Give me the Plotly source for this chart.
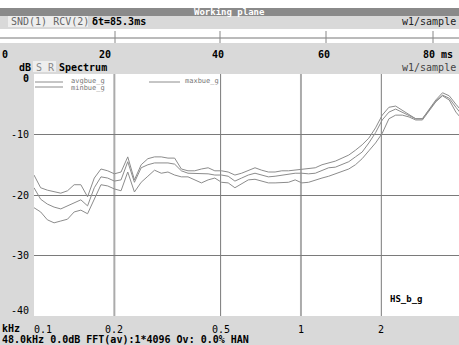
import math
import plotly.graph_objects as go

# ---------------- data ----------------
freq_khz = [0.1000, 0.1059, 0.1122, 0.1189, 0.1260, 0.1335, 0.1414, 0.1498, 0.1587, 0.1682,
            0.1782, 0.1888, 0.2000, 0.2119, 0.2245, 0.2378, 0.2520, 0.2670, 0.2828, 0.2997,
            0.3175, 0.3364, 0.3564, 0.3775, 0.4000, 0.4238, 0.4490, 0.4757, 0.5040, 0.5339,
            0.5657, 0.5993, 0.6350, 0.6727, 0.7127, 0.7551, 0.8000, 0.8476, 0.8980, 0.9514,
            1.0079, 1.0679, 1.1314, 1.1986, 1.2699, 1.3454, 1.4254, 1.5102, 1.6000, 1.6951,
            1.7959, 1.9027, 2.0159, 2.1357, 2.2627, 2.3973, 2.5398, 2.6909, 2.8509, 3.0204,
            3.2000, 3.3903, 3.5919, 3.8055, 4.0317]

maxbue_g = [-16.7, -18.8, -19.2, -19.5, -19.7, -19.3, -18.3, -18.3, -20.3, -17.2,
            -15.7, -16.0, -16.5, -16.2, -13.7, -17.5, -15.0, -14.0, -13.7, -13.7,
            -13.9, -13.9, -15.7, -16.0, -16.0, -15.7, -15.5, -16.0, -16.0, -16.2,
            -16.7, -16.4, -15.9, -15.5, -15.9, -16.2, -16.2, -16.0, -16.0, -15.9,
            -15.7, -15.7, -15.5, -15.0, -14.7, -14.4, -13.9, -13.4, -12.6, -11.7,
            -10.6, -8.9, -6.8, -5.5, -5.3, -6.0, -6.6, -7.4, -7.4, -5.8,
            -4.3, -3.1, -3.6, -5.0, -6.3]

avgbue_g = [-18.8, -20.7, -21.5, -22.0, -22.3, -21.8, -21.3, -20.8, -21.8, -18.8,
            -17.0, -17.2, -17.7, -17.5, -14.5, -17.9, -15.5, -15.0, -14.7, -14.7,
            -14.7, -14.9, -16.0, -16.4, -16.4, -16.4, -16.5, -16.7, -16.7, -16.9,
            -17.7, -17.2, -16.7, -16.4, -16.7, -17.0, -16.9, -16.7, -16.5, -16.4,
            -16.4, -16.5, -16.4, -15.9, -15.5, -15.4, -15.0, -14.5, -13.7, -12.9,
            -11.4, -9.7, -7.6, -6.3, -5.8, -6.3, -6.8, -7.4, -7.4, -6.0,
            -4.5, -3.5, -4.0, -5.5, -6.9]

minbue_g = [-22.1, -22.8, -24.1, -24.6, -24.3, -24.0, -22.8, -22.5, -23.1, -20.7,
            -18.3, -18.5, -19.0, -19.3, -16.2, -19.5, -17.9, -16.9, -15.9, -16.4,
            -16.2, -16.7, -17.0, -17.0, -17.5, -18.0, -17.5, -17.2, -17.9, -18.0,
            -18.8, -18.2, -17.5, -17.4, -17.7, -18.0, -18.0, -18.0, -17.9, -17.5,
            -18.0, -17.9, -17.5, -17.2, -16.9, -16.5, -16.2, -15.7, -15.0, -14.0,
            -12.7, -11.4, -9.8, -7.4, -6.8, -6.8, -7.1, -7.6, -7.6, -6.1,
            -4.6, -3.6, -4.3, -6.3, -7.6]

x_ticks = [0.1, 0.2, 0.5, 1, 2]
x_tick_labels = ["0.1", "0.2", "0.5", "1", "2"]
x_grid_light = [0.2, 1]
x_grid_dark = [0.5, 2]
y_ticks = [0, -10, -20, -30, -40]
time_ticks_ms = [0, 20, 40, 60, 80]

# ---------------- layout helpers ----------------
W, H = 459, 345
L, R, T, B = 34, 459, 74, 316
MONO = "DejaVu Sans Mono"
LIGHT = "#d9d9d9"


def px(x):
    return (x - L) / (R - L)


def py(y):
    return (B - y) / (B - T)


fig = go.Figure()
line_style = dict(color="#8c8c8c", width=1)
for name, vals in [("avgbue_g", avgbue_g), ("maxbue_g", maxbue_g), ("minbue_g", minbue_g)]:
    fig.add_trace(go.Scatter(x=freq_khz, y=vals, mode="lines", name=name,
                             line=line_style, showlegend=False, hoverinfo="skip"))

shapes = []
annotations = []


def rect(x0, y0, x1, y1, color):
    shapes.append(dict(type="rect", xref="paper", yref="paper", x0=px(x0), x1=px(x1),
                       y0=py(y1), y1=py(y0), fillcolor=color, line=dict(width=0), layer="below"))


def hline(x0, x1, y, color, width=1):
    shapes.append(dict(type="line", xref="paper", yref="paper", x0=px(x0), x1=px(x1),
                       y0=py(y), y1=py(y), line=dict(color=color, width=width)))


def vline(x, y0, y1, color, width=1):
    shapes.append(dict(type="line", xref="paper", yref="paper", x0=px(x), x1=px(x),
                       y0=py(y0), y1=py(y1), line=dict(color=color, width=width)))


def text(x, y, s, size=10, color="black", anchor="left", bold=False):
    annotations.append(dict(xref="paper", yref="paper", x=px(x), y=py(y),
                            text=("<b>%s</b>" % s) if bold else s, showarrow=False,
                            xanchor=anchor, yanchor="middle",
                            font=dict(family=MONO, size=size, color=color)))


# top white strip and title bar
rect(0, 0, W, 8, "white")
rect(0, 8, W, 16, "#8a8a8a")
text(W / 2, 12, "Working plane", size=9, color="white", anchor="center", bold=True)
# info row
rect(8, 16, 88, 27, "#eeeeee")
text(9, 21.5, "SND(1) RCV(2)", size=10, color="#666666")
text(90, 21.5, "δt=85.3ms", size=10, bold=True)
text(458, 21.5, "w1/sample", size=10, color="#222222", anchor="right")
# time strip
rect(0, 29, W, 43, "white")
hline(0, W, 38, "#777777", 1)
time_px = [9, 115, 220, 326, 433]
for t, xp in zip(time_ticks_ms, time_px):
    if t > 0:
        vline(xp, 31, 43, "#888888", 1)
time_label_px = [0, 105, 218, 324, 421]
for t, xp in zip(time_ticks_ms, time_label_px):
    text(xp, 55, str(t) + (" ms" if t == 80 else ""), size=10,
         anchor="center" if t not in (0, 80) else "left", bold=True)
# spectrum header
text(17, 67, "dB", size=10, bold=True)
rect(33, 61, 56, 72, "#eeeeee")
text(34, 67, "S R", size=10, color="#888888")
text(57, 67, "Spectrum", size=10, bold=True)
text(458, 67, "w1/sample", size=10, color="#444444", anchor="right")

# y tick labels
y_label_shift = {0: -4, -40: 6}
for v in y_ticks:
    annotations.append(dict(xref="paper", yref="y", x=px(31), y=v,
                            text="<b>%d</b>" % v if v == 0 else "%d" % v,
                            showarrow=False, xanchor="right", yanchor="middle",
                            yshift=y_label_shift.get(v, 0),
                            font=dict(family=MONO, size=10, color="black")))
# x tick labels (annotation x on a log axis is given in log10 units)
for v, lab in zip(x_ticks, x_tick_labels):
    annotations.append(dict(xref="x", yref="paper", x=math.log10(v), y=py(329), text=lab,
                            showarrow=False, xanchor="center", yanchor="middle",
                            xshift=9 if v == 0.1 else 0,
                            font=dict(family=MONO, size=10, color="black")))
text(0, 328.5, "kHz", size=10, bold=True)
text(0, 339.5, "48.0kHz 0.0dB FFT(av):1*4096 Ov: 0.0% HAN", size=10, bold=True)

# vertical grid lines (data coords)
for v in x_grid_light:
    shapes.append(dict(type="line", xref="x", yref="paper", x0=v, x1=v, y0=0, y1=1,
                       line=dict(color="#ababab", width=2), layer="below"))
for v in x_grid_dark:
    shapes.append(dict(type="line", xref="x", yref="paper", x0=v, x1=v, y0=0, y1=1,
                       line=dict(color="#7a7a7a", width=1), layer="below"))

# legend drawn inside plot
hline(35, 63, 82, "#8c8c8c")
text(69, 81.5, "avgbue_g", size=7, color="#777777")
hline(35, 63, 87, "#8c8c8c")
text(69, 87.5, "minbue_g", size=7, color="#777777")
hline(149, 180, 82, "#8c8c8c")
text(183, 81.5, "maxbue_g", size=7, color="#777777")

text(388, 299, "HS_b_g", size=9, bold=True)

fig.update_layout(
    width=W, height=H,
    margin=dict(l=L, r=W - R, t=T, b=H - B, pad=0),
    paper_bgcolor=LIGHT, plot_bgcolor="white",
    shapes=shapes, annotations=annotations, hovermode=False,
    xaxis=dict(type="log", range=[-1, 0.592], showgrid=False, showticklabels=False,
               zeroline=False, showline=False, ticks="", fixedrange=True),
    yaxis=dict(range=[-40, 0], tickvals=[-10, -20, -30], showgrid=True, gridcolor="#7a7a7a",
               gridwidth=1, showticklabels=False, zeroline=False, showline=False, ticks="",
               fixedrange=True),
)

fig.write_html("out.html", config={"displayModeBar": False},
               post_script="document.body.style.margin='0px';")
